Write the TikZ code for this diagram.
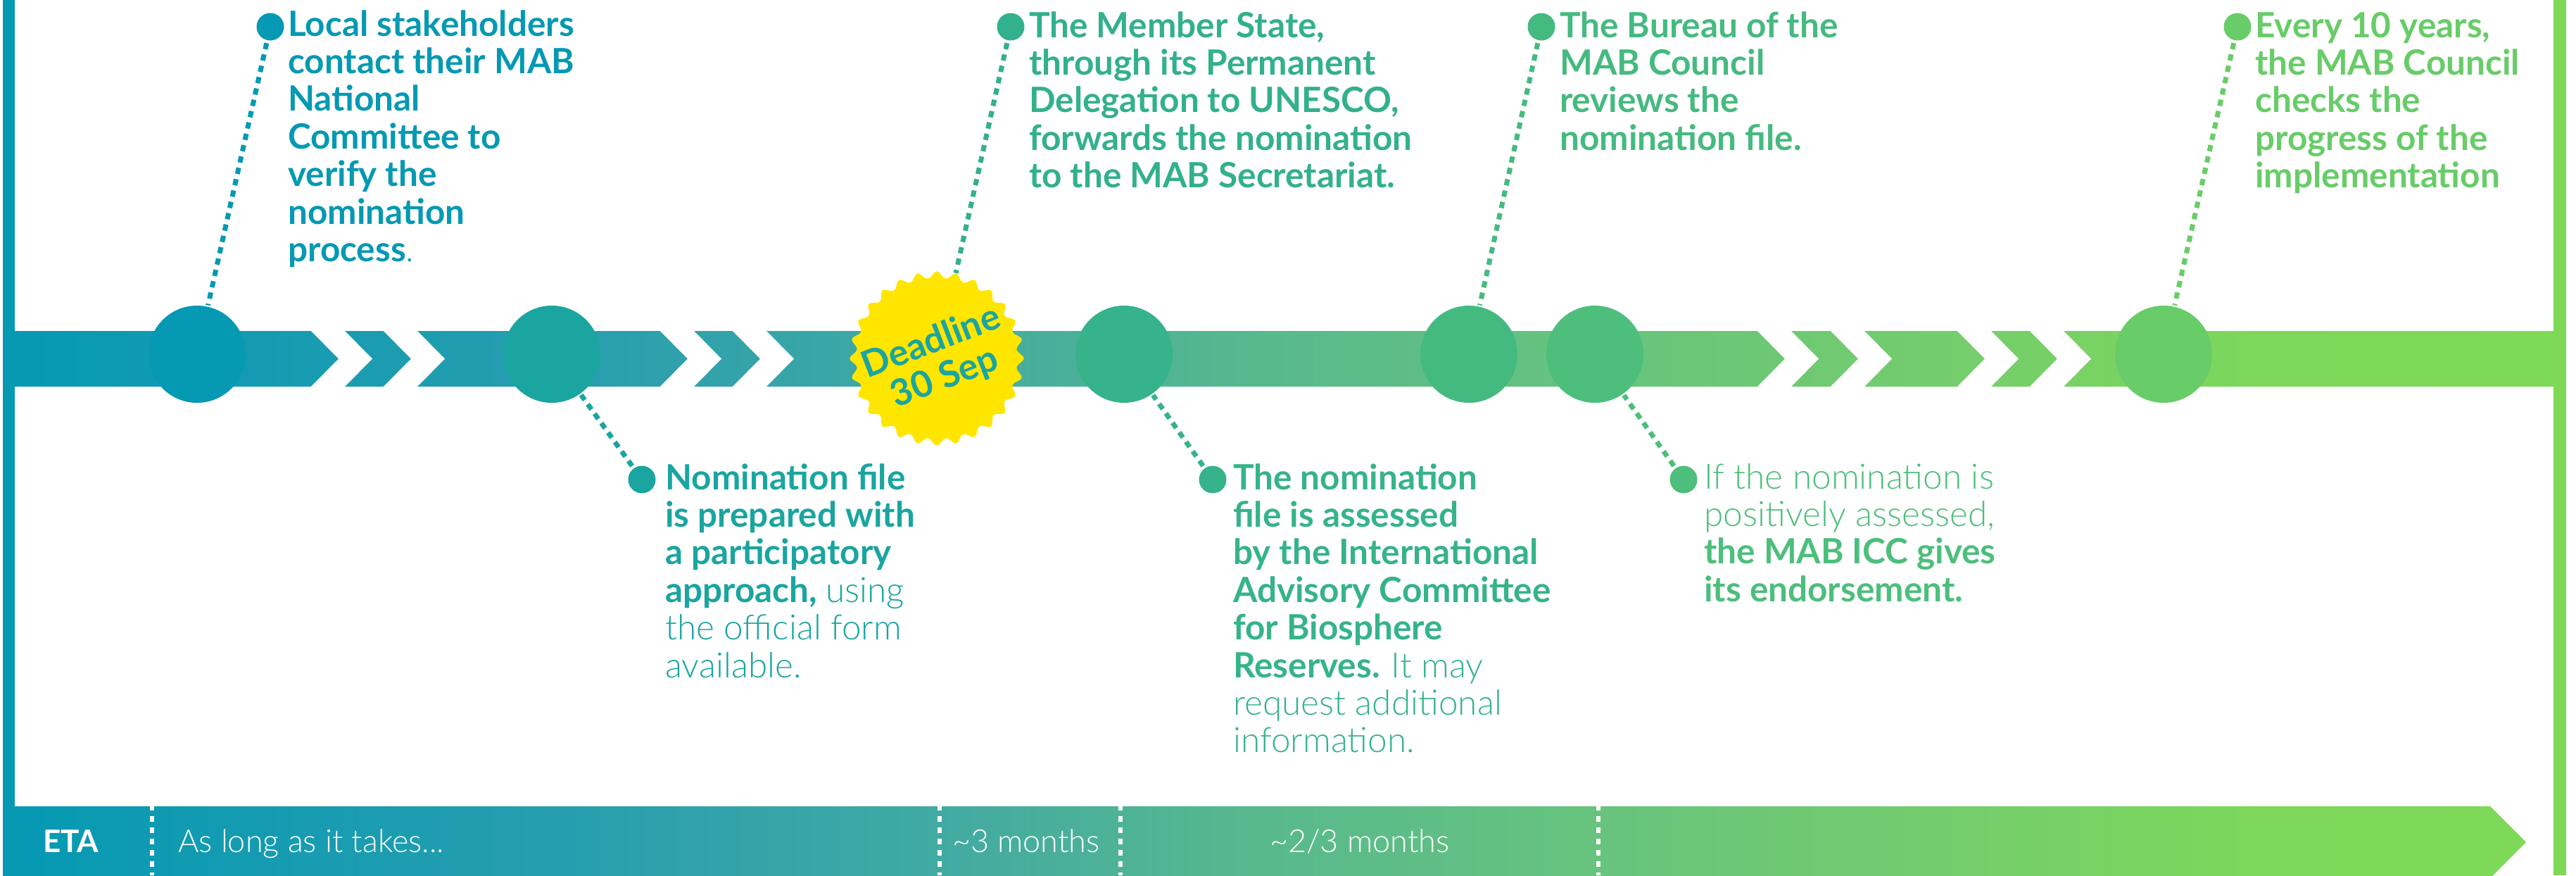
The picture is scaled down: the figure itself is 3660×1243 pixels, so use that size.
\documentclass[tikz,border=0pt]{standalone}
\usepackage{fontspec}
\setmainfont{Lato}
\newfontfamily\lightfont{Lato Light}
\newcommand\lite[1]{{\lightfont\mdseries #1}}

% palette
\definecolor{g0}{HTML}{0599B3}
\definecolor{g1}{HTML}{279EAF}
\definecolor{g2}{HTML}{40A9A4}
\definecolor{g3}{HTML}{58B98D}
\definecolor{g4}{HTML}{68C47C}
\definecolor{g5}{HTML}{75CE6B}
\definecolor{g6}{HTML}{7CD75B}
\definecolor{g7}{HTML}{7ED957}
\definecolor{k1}{HTML}{0599B3}
\definecolor{k2}{HTML}{1AA5A0}
\definecolor{k3}{HTML}{33B08D}
\definecolor{k4}{HTML}{36B38B}
\definecolor{k5}{HTML}{45BA80}
\definecolor{k6}{HTML}{4DBE7C}
\definecolor{k7}{HTML}{68CC68}
\definecolor{sunny}{HTML}{FFE600}

\pgfdeclarehorizontalshading{bandgrad}{100bp}{%
  color(0bp)=(g0); color(25bp)=(g0); color(36.04bp)=(g1); color(42.88bp)=(g2);
  color(49.78bp)=(g3); color(56.68bp)=(g4); color(63.58bp)=(g5);
  color(69.1bp)=(g6); color(75bp)=(g7); color(100bp)=(g7)}

\tikzset{
  bigdot/.style={circle, inner sep=0pt, minimum size=138pt},
  bullet/.style={circle, inner sep=0pt, minimum size=39pt},
  conn/.style={line width=7pt, dash pattern=on 9pt off 7.5pt, shorten <=4pt, shorten >=2pt},
  stepnote/.style={anchor=base west, inner sep=0pt, font=\fontsize{49.5}{53.4}\selectfont\bfseries},
  etatext/.style={anchor=base west, inner sep=0pt, text=white},
  etalight/.style={etatext, font=\lightfont\fontsize{45}{46}\selectfont},
  divider/.style={draw=white, line width=5.5pt, dash pattern=on 8pt off 8pt},
}

\begin{document}
\begin{tikzpicture}[x=1pt,y=-1pt]
\useasboundingbox (0,0) rectangle (3660,1243);

% side bars
\fill[g0] (4,0) rectangle (21,1145);
\fill[g7] (3628,0) rectangle (3646,1243);

% main band and ETA arrow share one gradient
\begin{scope}
  \clip (4,470) rectangle (3628,549)
        (4,1145) -- (3538,1145) -- (3589,1196) -- (3538,1247) -- (4,1247) -- cycle;
  \shade[shading=bandgrad] (4,0) rectangle (3628,1243);
\end{scope}

% chevron gaps cut into the band
\foreach \xr in {440,543,936,1039,2495,2599,2779,2882}{
  \fill[white] (\xr,468) -- (\xr+41,509.5) -- (\xr,551) -- (\xr+48,551)
               -- (\xr+89,509.5) -- (\xr+48,468) -- cycle;
}

% ETA row
\foreach \xs in {216,1335,1592,2271}{
  \draw[divider] (\xs,1143) -- (\xs,1243);
}
\node[etatext, font=\fontsize{44}{45}\selectfont\bfseries] (eta) at (61,1210) {ETA};
\node[etalight] (p1) at (253,1210) {As long as it takes...};
\node[etalight] (p2) at (1353,1210) {\textasciitilde3 months};
\node[etalight] (p3) at (1804,1210) {\textasciitilde2/3 months};

% milestones on the band
\node[bigdot, fill=k1] (c1) at (280,503) {};
\node[bigdot, fill=k2] (c2) at (784,503) {};
\node[bigdot, fill=k4] (c3) at (1597,503) {};
\node[bigdot, fill=k5] (c4) at (2087,503) {};
\node[bigdot, fill=k6] (c5) at (2266,503) {};
\node[bigdot, fill=k7] (c6) at (3074,503) {};

% deadline seal
\begin{scope}[shift={(1331,509)}]
  \fill[sunny, rounded corners=5pt] (0:126)
    \foreach \k in {1,...,55} { -- ({\k*6.428571}:{112+14*mod(\k+1,2)}) } -- cycle;
\end{scope}
\node[circle, inner sep=0pt, minimum size=244pt] (burst) at (1331,509) {};
\node[rotate=21, align=center, inner sep=0pt, text=k2,
      font=\fontsize{52}{54}\selectfont\bfseries] (dl) at (1333,512) {Deadline\\30 Sep};

% bullets
\node[bullet, fill=k1] (d1) at (384,38) {};
\node[bullet, fill=k2] (d2) at (912,681) {};
\node[bullet, fill=k3] (d3) at (1436,38) {};
\node[bullet, fill=k4] (d4) at (1723,681) {};
\node[bullet, fill=k5] (d5) at (2190,38) {};
\node[bullet, fill=k6] (d6) at (2392,681) {};
\node[bullet, fill=k7] (d7) at (3179,38) {};

% dotted leaders
\draw[conn, k1] (d1) -- (c1);
\draw[conn, k2] (d2) -- (c2);
\draw[conn, k3] (d3) -- (burst);
\draw[conn, k4] (d4) -- (c3);
\draw[conn, k5] (d5) -- (c4);
\draw[conn, k6] (d6) -- (c5);
\draw[conn, k7] (d7) -- (c6);

% step descriptions
\node[stepnote, text=k1] (t1) at (409,51) {\begin{tabular}[t]{@{}l@{}}
  Local stakeholders\\ contact their MAB\\ National\\ Committee to\\ verify the\\ nomination\\ process\lite{.}
\end{tabular}};
\node[stepnote, text=k2] (t2) at (945,695) {\begin{tabular}[t]{@{}l@{}}
  Nomination file\\ is prepared with\\ a participatory\\ approach, \lite{using}\\ \lite{the official form}\\ \lite{available.}
\end{tabular}};
\node[stepnote, text=k3] (t3) at (1462,53) {\begin{tabular}[t]{@{}l@{}}
  The Member State,\\ through its Permanent\\ Delegation to UNESCO,\\ forwards the nomination\\ to the MAB Secretariat.
\end{tabular}};
\node[stepnote, text=k4] (t4) at (1752,695) {\begin{tabular}[t]{@{}l@{}}
  The nomination\\ file is assessed\\ by the International\\ Advisory Committee\\ for Biosphere\\ Reserves. \lite{It may}\\ \lite{request additional}\\ \lite{information.}
\end{tabular}};
\node[stepnote, text=k5] (t5) at (2216,53) {\begin{tabular}[t]{@{}l@{}}
  The Bureau of the\\ MAB Council\\ reviews the\\ nomination file.
\end{tabular}};
\node[stepnote, text=k6] (t6) at (2421,694) {\begin{tabular}[t]{@{}l@{}}
  \lite{If the nomination is}\\ \lite{positively assessed,}\\ the MAB ICC gives\\ its endorsement.
\end{tabular}};
\node[stepnote, text=k7] (t7) at (3204,53) {\begin{tabular}[t]{@{}l@{}}
  Every 10 years,\\ the MAB Council\\ checks the\\ progress of the\\ implementation
\end{tabular}};
\end{tikzpicture}
\end{document}
